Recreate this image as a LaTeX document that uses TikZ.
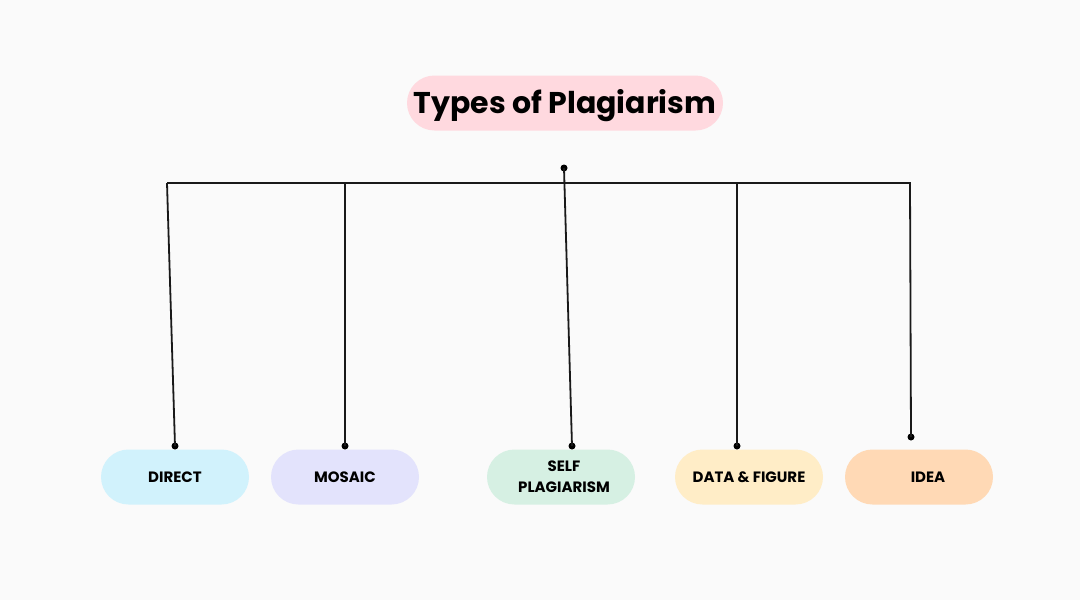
\documentclass[tikz,border=0pt]{standalone}
\usepackage{fontspec}
\setmainfont{Poppins}
\begin{document}
\begin{tikzpicture}[x=1pt,y=-1pt,
  pill/.style={rounded corners=27.5pt, minimum width=148pt, minimum height=55pt, inner sep=0pt, align=center,
     font=\fontsize{15}{19}\selectfont\bfseries},
  wire/.style={line width=1.8pt, black!90},
  dotm/.style={circle, fill=black, inner sep=0pt, minimum size=7pt}]
\fill[fill={rgb,255:red,250;green,250;blue,250}] (0,0) rectangle (1080,600);
\useasboundingbox (0,0) rectangle (1080,600);
\definecolor{cpink}{RGB}{255,217,223}
\definecolor{cblue}{RGB}{209,242,252}
\definecolor{cviolet}{RGB}{227,227,252}
\definecolor{cgreen}{RGB}{214,240,227}
\definecolor{cyellow}{RGB}{255,237,199}
\definecolor{corange}{RGB}{255,217,181}

\node[fill=cpink, rounded corners=27.5pt, minimum width=316pt, minimum height=55pt, inner sep=0pt,
  text height=26pt, text depth=6pt,
  font=\fontsize{30}{34}\selectfont\bfseries] (title) at (565,103) {Types of Plagiarism};

\node[pill, fill=cblue] (direct) at (175,477) {DIRECT};
\node[pill, fill=cviolet] (mosaic) at (345,477) {MOSAIC};
\node[pill, fill=cgreen, font=\fontsize{15}{21}\selectfont\bfseries] (self) at (561,477) {\hspace*{6pt}SELF\\\hspace*{6pt}PLAGIARISM};
\node[pill, fill=cyellow] (data) at (749,477) {DATA \& FIGURE};
\node[pill, fill=corange] (idea) at (919,477) {\hspace*{18pt}IDEA};

\coordinate (br) at (911,183);
\node[dotm] (top) at (564,168) {};
\node[dotm] (d1) at (175,446) {};
\node[dotm] (d2) at (345,446) {};
\node[dotm] (d3) at (572,446) {};
\node[dotm] (d4) at (737,446) {};
\node[dotm] (d5) at (911,437) {};
\coordinate (t1) at (167,183);
\coordinate (t2) at (345,183);
\coordinate (t4) at (737,183);
\coordinate (t5) at (910,183);

\draw[wire] (t1) -- (br);
\draw[wire] (t1) -- (d1.center);
\draw[wire] (t2) -- (d2.center);
\draw[wire] (top.center) -- (d3.center);
\draw[wire] (t4) -- (d4.center);
\draw[wire] (t5) -- (d5.center);
\end{tikzpicture}
\end{document}
